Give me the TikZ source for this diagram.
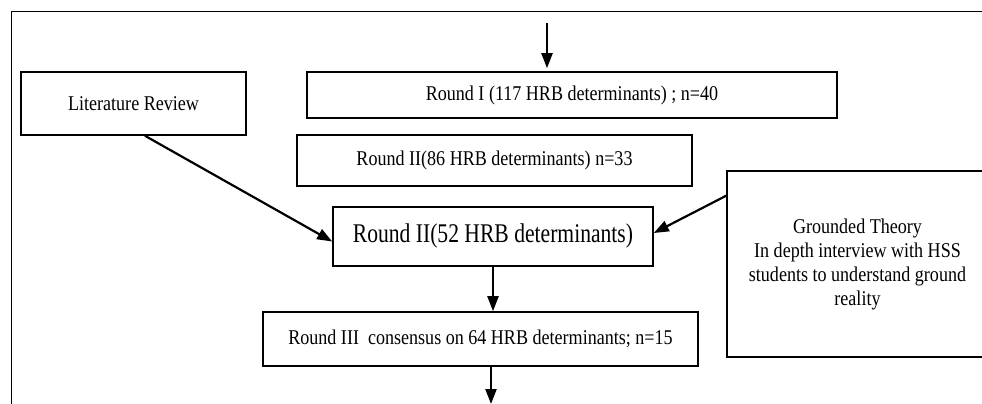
\documentclass[tikz,border=0pt]{standalone}
\usepackage{fontspec}
\setmainfont{Liberation Serif}[FakeStretch=0.86]
\newfontfamily\widefont{Liberation Serif}[FakeStretch=0.8]
\usetikzlibrary{calc,arrows.meta}

\begin{document}
\begin{tikzpicture}[
  x=1pt, y=-1pt,
  every node/.style={align=center},
  box/.style={rectangle, draw=black, line width=1.6pt, inner sep=2pt, fill=white, font=\fontsize{21}{24}\selectfont},
  frame/.style={draw=black, line width=1pt},
  arrow/.style={-{Triangle[length=15pt, width=11pt]}, line width=2.2pt, black}
]
  \useasboundingbox (0,0) rectangle (982,404);
  \draw[frame] (11,404) -- (11,12) -- (982,12);

  \node[box, minimum width=225pt, minimum height=63pt] (litrev) at (133.5,103.5) {Literature Review};
  \node[box, minimum width=530pt, minimum height=46pt] (round1) at (572,95) {Round I (117 HRB determinants) ; n=40};
  \node[box, minimum width=395pt, minimum height=51pt] (round2a) at (494.5,160.5) {Round II(86 HRB determinants) n=33};
  \node[box, minimum width=320pt, minimum height=59pt, font=\widefont\fontsize{27}{30}\selectfont] (round2b) at (493,236.5) {Round II(52 HRB determinants)};
  \node[box, minimum width=435pt, minimum height=54pt] (round3) at (480.5,339) {Round III\ \ consensus on 64 HRB determinants; n=15};
  \node[box, minimum width=261pt, minimum height=186pt] (grounded) at (857.5,264) {Grounded Theory\\In depth interview with HSS\\students to understand ground\\reality};

  \coordinate (top) at (547,23);
  \coordinate (bottom) at (491,404);

  \draw[arrow, shorten >=3pt] (top) -- (top |- round1.north);
  \draw[arrow] ([xshift=11.5pt]litrev.south) -- ([yshift=-5pt]round2b.west);
  \draw[arrow] ([yshift=-25.5pt]grounded.north west) -- ([yshift=3.5pt]round2b.east);
  \draw[arrow] (round2b.south) -- (round2b.south |- round3.north);
  \draw[arrow] (bottom |- round3.south) -- (bottom);
\end{tikzpicture}
\end{document}
